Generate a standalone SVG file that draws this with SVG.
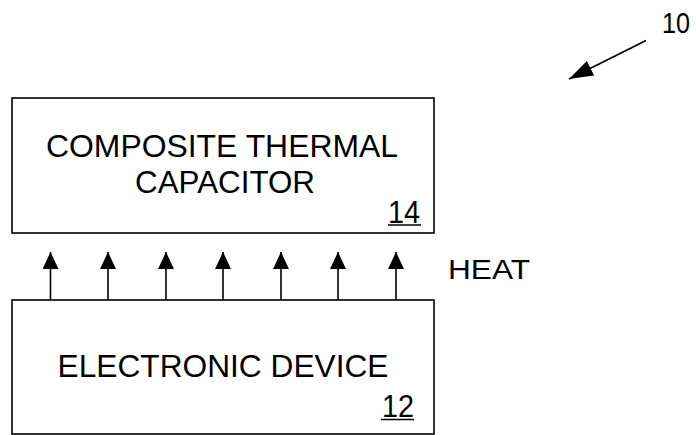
<svg xmlns="http://www.w3.org/2000/svg" width="696" height="435" viewBox="0 0 696 435">
  <defs>
    <style>
      .box { fill: #fff; stroke: #000; stroke-width: 1.6; }
      .lbl { font-family: "Liberation Sans", Arial, sans-serif; fill: #000; }
      .big { font-size: 32px; }
      .conn { stroke: #000; stroke-width: 1.6; fill: none; }
      .ul { stroke: #000; stroke-width: 1.6; }
    </style>
    <marker id="ah" viewBox="0 0 17 16" refX="17" refY="8" markerWidth="17" markerHeight="16" markerUnits="userSpaceOnUse" orient="auto">
      <path d="M0,0 L17,8 L0,16 Z" fill="#000"/>
    </marker>
    <marker id="ah10" viewBox="0 0 24 16" refX="24" refY="8" markerWidth="24" markerHeight="16" markerUnits="userSpaceOnUse" orient="auto">
      <path d="M0,0 L24,8 L0,16 Z" fill="#000"/>
    </marker>
  </defs>
  <rect width="696" height="435" fill="#fff"/>

  <g id="node-14">
    <rect class="box" x="12" y="98" width="422" height="135"/>
    <text class="lbl big" x="222" y="157" text-anchor="middle" textLength="352" lengthAdjust="spacingAndGlyphs">COMPOSITE THERMAL</text>
    <text class="lbl big" x="225" y="193" text-anchor="middle" textLength="180" lengthAdjust="spacingAndGlyphs">CAPACITOR</text>
    <text class="lbl big" x="388" y="223" textLength="32" lengthAdjust="spacingAndGlyphs">14</text>
    <line class="ul" x1="388" y1="225" x2="421" y2="225"/>
  </g>

  <g id="node-12">
    <rect class="box" x="12" y="300" width="422" height="134"/>
    <text class="lbl big" x="223" y="377" text-anchor="middle" textLength="331" lengthAdjust="spacingAndGlyphs">ELECTRONIC DEVICE</text>
    <text class="lbl big" x="382" y="417" textLength="32" lengthAdjust="spacingAndGlyphs">12</text>
    <line class="ul" x1="381" y1="419.5" x2="414" y2="419.5"/>
  </g>

  <g id="label-heat">
    <text class="lbl" x="448" y="279" font-size="27" textLength="82" lengthAdjust="spacingAndGlyphs">HEAT</text>
  </g>

  <g id="label-10">
    <text class="lbl" x="662" y="33" font-size="30" textLength="28" lengthAdjust="spacingAndGlyphs">10</text>
  </g>

  <g id="connectors">
    <line class="conn" x1="50.5" y1="300" x2="50.5" y2="252" marker-end="url(#ah)"/>
    <line class="conn" x1="108" y1="300" x2="108" y2="252" marker-end="url(#ah)"/>
    <line class="conn" x1="166" y1="300" x2="166" y2="252" marker-end="url(#ah)"/>
    <line class="conn" x1="223" y1="300" x2="223" y2="252" marker-end="url(#ah)"/>
    <line class="conn" x1="281" y1="300" x2="281" y2="252" marker-end="url(#ah)"/>
    <line class="conn" x1="338" y1="300" x2="338" y2="252" marker-end="url(#ah)"/>
    <line class="conn" x1="396" y1="300" x2="396" y2="252" marker-end="url(#ah)"/>
    <line class="conn" x1="646" y1="40.5" x2="569" y2="79" marker-end="url(#ah10)"/>
  </g>
</svg>
